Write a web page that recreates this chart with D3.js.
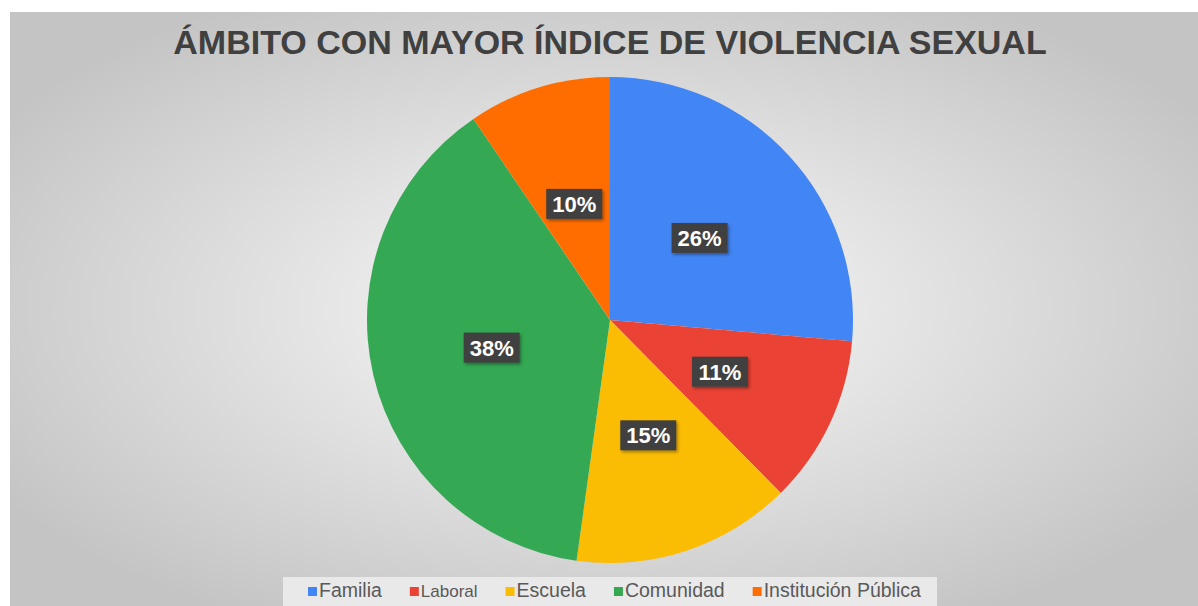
<!DOCTYPE html>
<html>
<head>
<meta charset="utf-8">
<script src="https://cdn.jsdelivr.net/npm/d3@7"></script>
<style>
  body { margin: 0; background: #fff; }
  svg { display: block; font-family: "Liberation Sans", Arial, sans-serif; }
</style>
</head>
<body>
<div id="chart"></div>
<script>
// data
var categories = ["Familia", "Laboral", "Escuela", "Comunidad", "Institución Pública"];
var values = [26.4, 11.2, 14.6, 38.3, 9.5];
var colors = ["#4285F4", "#EA4335", "#FBBC04", "#34A853", "#FF6D01"];
var title = "ÁMBITO CON MAYOR ÍNDICE DE VIOLENCIA SEXUAL";

var width = 1198, height = 606;

var svg = d3.select("#chart").append("svg")
    .attr("width", width)
    .attr("height", height);

var defs = svg.append("defs");

// grey radial background like the spreadsheet chart area
var grad = defs.append("radialGradient")
    .attr("id", "bg")
    .attr("cx", "50%").attr("cy", "50%").attr("r", "60%");
grad.append("stop").attr("offset", "0%").attr("stop-color", "#fbfbfb");
grad.append("stop").attr("offset", "100%").attr("stop-color", "#c4c4c4");

var shadow = defs.append("filter")
    .attr("id", "shadow")
    .attr("x", "-20%").attr("y", "-20%").attr("width", "150%").attr("height", "160%");
shadow.append("feDropShadow")
    .attr("dx", 1.5).attr("dy", 2).attr("stdDeviation", 1.5)
    .attr("flood-color", "#000").attr("flood-opacity", 0.35);

var panel = {x: 10, y: 12, w: width - 10, h: height - 12};

svg.append("rect")
    .attr("x", panel.x)
    .attr("y", panel.y)
    .attr("width", panel.w)
    .attr("height", panel.h)
    .attr("fill", "url(#bg)");

//title
svg.append("text")
    .attr("x", 610)
    .attr("y", 54)
    .attr("text-anchor", "middle")
    .attr("font-size", 34)
    .attr("font-weight", "bold")
    .attr("fill", "#404040")
    .text(title);

// pie
var cx = 610, cy = 320, radius = 243;

var pie = d3.pie().sort(null).value(function(d) { return d.value; });
var arc = d3.arc().innerRadius(0).outerRadius(radius);
var labelArc = d3.arc().innerRadius(radius * 0.5).outerRadius(radius * 0.5);

var rows = categories.map(function(c, i) {
    return {name: c, value: values[i], color: colors[i]};
});
var total = d3.sum(values);

var g = svg.append("g").attr("transform", "translate(" + cx + "," + cy + ")");

g.selectAll("path.slice")
    .data(pie(rows))
    .enter()
    .append("path")
    .attr("class", "slice")
    .attr("d", arc)
    .attr("fill", function(d) { return d.data.color; });

// percentage labels in dark boxes
var labels = g.selectAll("g.lbl")
    .data(pie(rows))
    .enter()
    .append("g")
    .attr("class", "lbl")
    .attr("transform", function(d) {
        return "translate(" + labelArc.centroid(d) + ")";
    });

labels.append("rect")
    .attr("x", -28)
    .attr("y", -15)
    .attr("width", 56)
    .attr("height", 30)
    .attr("fill", "#404040")
    .attr("filter", "url(#shadow)");

labels.append("text")
    .attr("text-anchor", "middle")
    .attr("dy", "0.36em")
    .attr("font-size", 22)
    .attr("font-weight", "bold")
    .attr("fill", "#ffffff")
    .text(function(d) { return Math.round(d.data.value / total * 100) + "%"; });

// legend
var legendBox = {x: 283, y: 577, w: 654, h: 29};
svg.append("rect")
    .attr("x", legendBox.x)
    .attr("y", legendBox.y)
    .attr("width", legendBox.w)
    .attr("height", legendBox.h)
    .attr("fill", "#e9e9e9");

var legend = svg.append("g");
var lx = 308;
rows.forEach(function(d) {
    var fs = d.name == "Laboral" ? 17 : 19.5;
    var item = legend.append("g").attr("transform", "translate(" + lx + ",0)");
    item.append("rect")
        .attr("x", 0).attr("y", 587)
        .attr("width", 9).attr("height", 9)
        .attr("fill", d.color);
    var t = item.append("text")
        .attr("x", 11)
        .attr("y", 597)
        .attr("font-size", fs)
        .attr("fill", "#595959")
        .text(d.name);
    lx += 11 + t.node().getComputedTextLength() + 28;
});
</script>
</body>
</html>
